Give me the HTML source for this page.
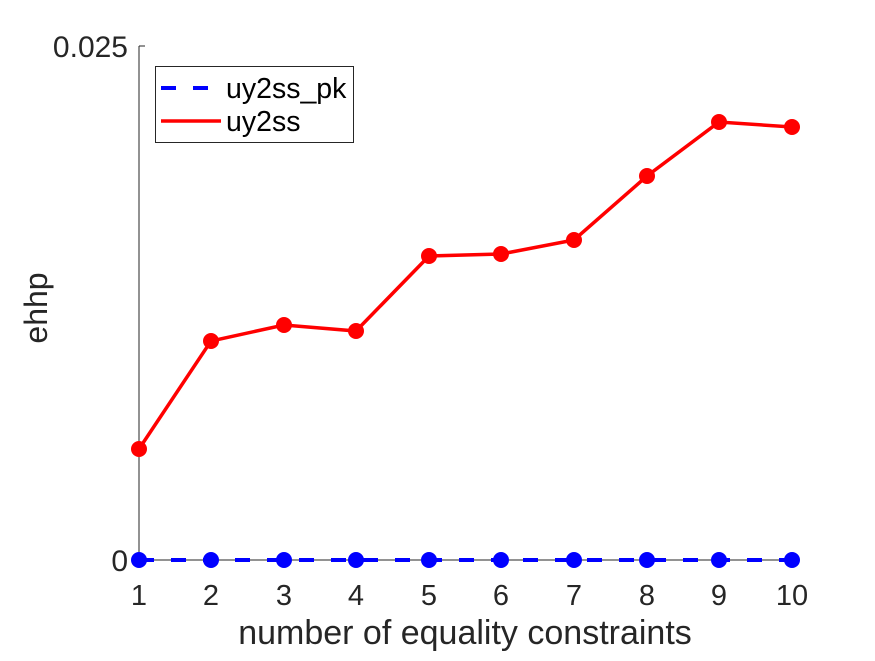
<!DOCTYPE html>
<html><head><style>body{margin:0;background:#fff}</style></head><body>
<svg width="875" height="656" xmlns="http://www.w3.org/2000/svg" font-family="Liberation Sans, sans-serif">
<rect width="875" height="656" fill="#fff"/>
<line x1="139" y1="46" x2="139" y2="560" stroke="#262626" stroke-width="1"/>
<line x1="139" y1="46" x2="145" y2="46" stroke="#262626" stroke-width="1"/>
<line x1="139" y1="560" x2="792" y2="560" stroke="#262626" stroke-width="1"/>
<g font-size="29" fill="#262626" text-anchor="middle">
<text x="139" y="605">1</text><text x="211" y="605">2</text><text x="284" y="605">3</text><text x="356" y="605">4</text><text x="429" y="605">5</text><text x="501" y="605">6</text><text x="574" y="605">7</text><text x="647" y="605">8</text><text x="719" y="605">9</text><text x="792" y="605">10</text>
</g>
<g font-size="30" fill="#262626" text-anchor="end">
<text x="128" y="571">0</text><text x="128" y="57">0.025</text>
</g>
<text x="465" y="644" font-size="34" fill="#262626" text-anchor="middle">number of equality constraints</text>
<text transform="translate(47,308) rotate(-90)" font-size="32" fill="#262626" text-anchor="middle">ehhp</text>
<polyline points="139,449 211,341 284,325 356,331 429,256 501,254 574,240 647,176 719,122 792,127" fill="none" stroke="#f00" stroke-width="3.5"/>
<g fill="#f00">
<circle cx="139" cy="449" r="8"/><circle cx="211" cy="341" r="8"/><circle cx="284" cy="325" r="8"/><circle cx="356" cy="331" r="8"/><circle cx="429" cy="256" r="8"/><circle cx="501" cy="254" r="8"/><circle cx="574" cy="240" r="8"/><circle cx="647" cy="176" r="8"/><circle cx="719" cy="122" r="8"/><circle cx="792" cy="127" r="8"/>
</g>
<line x1="139" y1="560" x2="792" y2="560" stroke="#00f" stroke-width="4" stroke-dasharray="15,17"/>
<g fill="#00f">
<circle cx="139" cy="560" r="8"/><circle cx="211" cy="560" r="8"/><circle cx="284" cy="560" r="8"/><circle cx="356" cy="560" r="8"/><circle cx="429" cy="560" r="8"/><circle cx="501" cy="560" r="8"/><circle cx="574" cy="560" r="8"/><circle cx="647" cy="560" r="8"/><circle cx="719" cy="560" r="8"/><circle cx="792" cy="560" r="8"/>
</g>
<rect x="155.5" y="66.5" width="198" height="76" fill="#fff" stroke="#262626" stroke-width="1"/>
<line x1="161" y1="88" x2="221" y2="88" stroke="#00f" stroke-width="4" stroke-dasharray="15,17"/>
<line x1="161" y1="121" x2="221" y2="121" stroke="#f00" stroke-width="3.5"/>
<text x="226" y="98" font-size="28.5" fill="#000">uy2ss_pk</text>
<text x="226" y="131" font-size="28.5" fill="#000">uy2ss</text>
</svg>
</body></html>
